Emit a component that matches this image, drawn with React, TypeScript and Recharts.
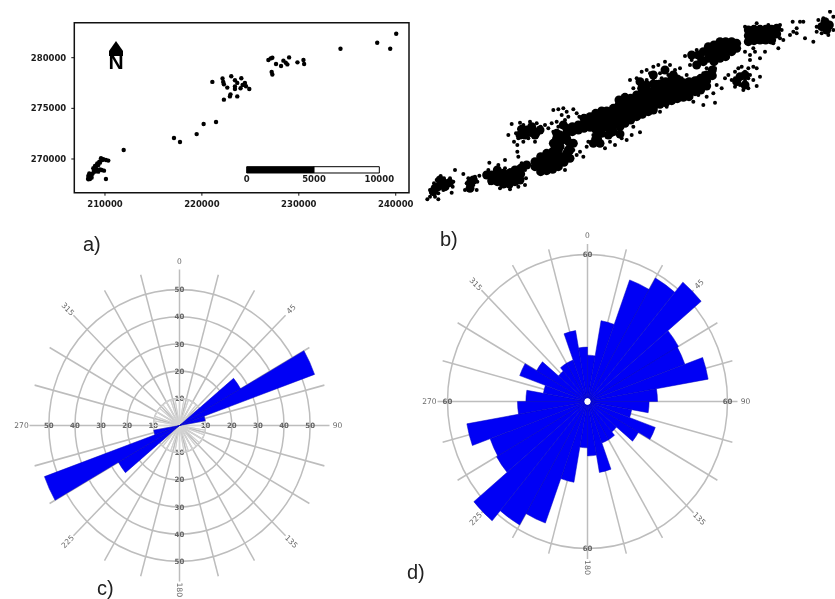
import React from 'react';
import {
  ScatterChart, Scatter, XAxis, YAxis, ReferenceArea, ReferenceDot,
  PieChart, Pie, Sector, PolarGrid,
} from 'recharts';

// ---------- Panel a: map of points (map coordinates) ----------
const aXTicks = [210000, 220000, 230000, 240000];
const aYTicks = [270000, 275000, 280000];
const aXDomain = [206835, 241370];
const aYDomain = [266673, 283455];
const aX = [
  208280, 208450, 208620, 208380, 208730, 208970, 209310, 209660, 209900, 208800, 208970, 209210, 209420, 209310, 209590, 209830, 210100, 210340, 210100, 208450,
  208520, 208280, 208860, 209140, 209480, 209070, 209480, 209720, 208620, 208280,
  211930,
  217120, 217740, 219460, 220180, 221460,
  221080, 222130, 222200, 222270, 222620, 223030, 223410, 223650, 224070, 223410, 223410, 223990, 224200, 224440, 224550, 224890, 222950, 222270, 222890, 223650,
  226860, 227100, 227270, 227650, 227200, 227270, 228170, 228410, 228650, 228820, 229000, 229860, 230480, 230550, 234300, 238090, 239430, 240050,
];
const aY = [
  268090, 268250, 268420, 268580, 268580, 268750, 268750, 268910, 268850, 269080, 269310, 269570, 269740, 269410, 270070, 269970, 269900, 269840, 268020, 268020,
  268420, 268320, 268850, 268980, 268980, 269240, 269640, 269900, 268160, 267990,
  270890,
  272070, 271680, 272460, 273450, 273650,
  277610, 277940, 277610, 277380, 277050, 278170, 277770, 277510, 277970, 277150, 276910, 276980, 277310, 277510, 277180, 276910, 276380, 275860, 276180, 276180,
  279770, 279930, 280000, 279380, 278600, 278340, 279180, 279710, 279510, 279340, 280030, 279540, 279770, 279380, 280890, 281480, 280890, 282370,
];
const aScaleBarX = [224623, 231570, 238308];
const aScaleBarY = [268618, 269240];
const aScaleLabels = ['0', '5000', '10000'];
const aScaleLabelY = 268000;

// ---------- Panel b: dense cloud (picture units, no axes) ----------
const bDense: [number, number][] = [
  [40,545],[55,530],[70,518],[88,518],[60,510],[45,535],[75,530],[150,520],[160,510],[150,535],
  [200,495],[215,495],[215,512],[232,480],[232,497],[232,515],[250,490],[250,507],[250,522],[268,490],[268,507],[268,522],[285,480],[285,497],[285,515],[302,475],[302,492],[300,510],[320,465],
  [345,455],[345,470],[362,440],[362,455],[362,472],[362,485],[380,430],[380,447],[380,465],[380,482],[398,425],[398,442],[398,460],[398,478],[415,420],[415,437],[415,455],[415,470],[432,440],[432,457],[450,445],[440,430],[450,420],
  [300,375],[320,360],[335,350],[345,375],[305,358],[340,365],[360,360],[315,375],
  [410,385],[420,375],[425,392],[440,385],[420,410],[400,400],[405,415],[415,400],[410,370],[430,345],
  [440,355],[440,370],[457,350],[457,365],[475,345],[475,360],[492,325],[492,340],[492,355],[510,320],[510,335],[510,352],[527,310],[527,325],[527,342],[527,358],[545,303],[545,318],[545,335],[545,352],[560,303],[562,320],[562,337],[562,352],
  [530,380],[545,370],[565,375],[520,400],[540,400],[580,365],[600,372],[450,400],[445,420],[460,400],
  [580,295],[580,312],[580,328],[580,345],[597,270],[597,285],[597,302],[597,320],[597,335],[600,350],[615,262],[615,275],[615,292],[615,308],[615,325],[615,340],[632,265],[632,282],[632,298],[632,315],[632,330],[650,255],[650,272],[650,288],[650,305],[650,320],
  [667,250],[667,267],[667,283],[667,298],[667,313],[685,245],[685,262],[685,278],[685,292],[685,305],[702,240],[702,257],[702,272],[702,288],[700,300],[720,238],[720,252],[720,268],[720,283],[737,232],[737,248],[737,264],[737,278],[755,225],[755,240],[755,257],[755,272],
  [772,222],[772,238],[772,252],[772,266],[790,218],[790,235],[790,248],[790,262],[807,215],[807,230],[807,245],[807,260],[825,212],[825,228],[825,245],[842,205],[842,222],[842,240],[860,195],[860,212],[860,228],[877,180],[877,197],
  [665,235],[680,225],[700,222],[720,222],[737,215],[755,208],[772,207],[660,215],[700,195],[735,180],[760,195],[830,165],[845,150],[815,135],[850,155],
  [835,135],[850,125],[865,110],[865,127],[865,145],[882,105],[882,122],[882,138],[882,155],[900,95],[900,112],[900,128],[900,145],[917,95],[917,110],[917,127],[917,140],[935,95],[935,110],[935,125],[950,100],[950,115],
  [985,60],[985,77],[985,95],[1002,58],[1002,75],[1002,92],[1020,58],[1020,75],[1020,90],[1037,58],[1037,75],[1037,90],[1055,58],[1055,75],[1055,90],[1070,55],[1070,72],
  [1215,35],[1228,45],[1205,50],[1220,60],
  [960,200],[975,195],[950,215],[975,225],
];
const bSparse: [number, number][] = [
  [22,568],[30,560],[35,550],[30,540],[42,520],[50,510],[62,498],[72,505],[90,505],[100,515],[98,530],[80,535],[70,540],[55,550],[45,560],[55,568],[95,548],[105,480],
  [135,540],[140,520],[145,505],[165,500],[178,497],[172,515],[170,540],[155,532],[130,492],[160,525],
  [197,490],[205,480],[208,458],[235,465],[255,450],[255,475],[270,480],[305,460],[315,480],[318,505],[315,525],[240,535],[270,538],[295,530],[210,520],[295,440],[292,425],
  [265,375],[275,342],[300,338],[298,355],[288,370],[282,395],[292,405],[310,345],[330,335],[350,340],[362,350],[375,345],[395,340],[410,335],[385,355],[400,365],[415,350],[400,300],[415,298],[430,295],[440,305],[425,315],[445,320],[460,298],[470,310],[478,320],[435,330],[345,395],[355,372],[325,385],[310,395],[330,375],[295,385],
  [440,400],[460,420],[480,425],[490,440],[455,445],[500,410],[520,385],[530,395],[545,405],[555,415],[570,395],[585,405],[605,385],[620,390],[635,375],[660,367],[640,350],[600,365],[575,375],[520,375],[540,385],[505,395],[470,435],[435,480],[425,435],
  [630,210],[650,205],[660,225],[665,185],[680,180],[690,190],[700,170],[715,165],[735,155],[750,165],[765,180],[780,175],[795,138],[815,150],[830,120],[800,195],[770,200],[745,195],[720,190],[700,205],[680,210],[660,240],[640,235],[725,205],[755,205],[785,205],[830,205],[855,155],[860,175],[850,190],[885,175],[810,165],[710,215],[735,215],[690,225],[770,215],
  [820,275],[850,285],[885,278],[860,260],[835,255],[880,250],[905,235],[890,225],[915,205],[740,290],[720,305],[760,270],[700,285],[680,310],[800,265],
  [925,195],[935,210],[945,185],[955,175],[965,170],[975,185],[985,175],[1000,170],[990,195],[975,210],[960,225],[945,230],[970,240],[985,235],[1010,228],[1020,200],[955,205],[985,205],[1000,210],[1010,175],[965,195],[945,205],
  [975,125],[990,135],[1005,125],[1020,145],[1035,125],[1075,115],[1090,90],[990,150],
  [975,50],[1010,40],[1045,45],[1080,45],[1085,60],[1080,85],[1060,100],[1000,115],
  [1110,75],[1120,65],[1130,55],[1140,35],[1118,35],[1150,35],[1130,70],[1155,85],[1180,95],[1190,50],[1195,30],[1210,25],[1230,5],[1240,20],[1240,60],[1225,75],[1205,70],[1190,65],
];

// ---------- Panels c and d: rose diagrams, 36 bins of 10 degrees from north ----------
const cBins = [
  0, 0, 0, 0, 0, 27, 55, 10, 0, 0, 0, 0, 0, 0, 0, 0, 0, 0,
  0, 0, 0, 0, 0, 27, 55, 10, 0, 0, 0, 0, 0, 0, 0, 0, 0, 0,
];
const cRings = [10, 20, 30, 40, 50];
const dBins = [
  31.5, 55.8, 88, 97, 106, 75, 74, 87.5, 50, 44, 32, 51.5, 42, 27, 30, 30, 49, 37,
  31.5, 55.8, 88, 97, 106, 75, 74, 87.5, 50, 44, 32, 51.5, 42, 27, 30, 30, 49, 37,
];
const dRings = [100];
const longSpokes = [0, 15, 30, 45, 60, 75, 90, 105, 120, 135, 150, 165, 180, 195, 210, 225, 240, 255, 270, 285, 300, 315, 330, 345];
const compassLabels = [
  { bearing: 0, text: '0', rot: 0 },
  { bearing: 45, text: '45', rot: -45 },
  { bearing: 90, text: '90', rot: 0 },
  { bearing: 135, text: '135', rot: 45 },
  { bearing: 180, text: '180', rot: 90 },
  { bearing: 225, text: '225', rot: -45 },
  { bearing: 270, text: '270', rot: 0 },
  { bearing: 315, text: '315', rot: 45 },
];

const AXIS_FONT = { fontFamily: 'DejaVu Sans', fontSize: 8.5, fontWeight: 700, fill: '#1a1a1a' };
const GREY = '#bdbdbd';
const ROSE_SIZE = 375;

function PointDot(r: number) {
  return (p: any) => <circle cx={p.cx} cy={p.cy} r={r} fill="#000" />;
}

function Rose({ bins, rings, unit, inner, innerSpokes, ringLabels }: {
  bins: number[]; rings: number[]; unit: number; inner: number; innerSpokes: boolean; ringLabels: string[] | null;
}) {
  const C = ROSE_SIZE / 2;
  const table = bins.map((v, i) => ({ bin: i * 10, slot: 1, v }));
  const rad = (b: number) => (b * Math.PI) / 180;
  const at = (b: number, r: number) => ({ x: C + r * Math.sin(rad(b)), y: C - r * Math.cos(rad(b)) });
  return (
    <PieChart width={ROSE_SIZE} height={ROSE_SIZE} margin={{ top: 0, right: 0, bottom: 0, left: 0 }}>
      <PolarGrid
        gridType="circle"
        polarAngles={longSpokes.map((b) => 90 - b)}
        polarRadius={rings.map((r) => r * unit)}
        stroke={GREY} strokeWidth={1.5}
      />
      {innerSpokes && (
        <Pie
          data={table} dataKey="slot" cx={C} cy={C} startAngle={90} endAngle={-270}
          innerRadius={0} outerRadius={rings[0] * unit} fill="none" stroke="#d2d2d2" strokeWidth={1}
          isAnimationActive={false} labelLine={false} label={false}
        />
      )}
      <Pie
        data={table} dataKey="slot" cx={C} cy={C} startAngle={90} endAngle={-270}
        innerRadius={inner} outerRadius={150} paddingAngle={0} stroke="none"
        isAnimationActive={false} labelLine={false} label={false}
        shape={(p: any) => {
          const val = p.payload?.v ?? p.v ?? 0;
          if (!val) return <g />;
          return (
            <Sector
              cx={p.cx} cy={p.cy} startAngle={p.startAngle} endAngle={p.endAngle}
              innerRadius={inner} outerRadius={val * unit}
              fill="#0000f5" stroke="#0000c0" strokeWidth={0.5}
            />
          );
        }}
      />
      {inner > 0 && <circle cx={C} cy={C} r={inner} fill="#fff" />}
      {ringLabels && [0, 90, 180, 270].flatMap((b) =>
        rings.map((r, i) => {
          const q = at(b, r * unit);
          return (
            <text key={`${b}-${r}`} x={q.x} y={q.y} textAnchor="middle" dominantBaseline="central"
              fontFamily="DejaVu Sans" fontSize={7} fontWeight={700} fill="#666">{ringLabels[i]}</text>
          );
        }),
      )}
      {compassLabels.map((l) => {
        const q = at(l.bearing, 158);
        return (
          <text key={l.bearing} x={q.x} y={q.y} textAnchor="middle" dominantBaseline="central"
            transform={`rotate(${l.rot} ${q.x} ${q.y})`}
            fontFamily="DejaVu Sans" fontSize={7.5} fill="#6a6a6a">{l.text}</text>
        );
      })}
    </PieChart>
  );
}

const note = (left: number, top: number, text: string) => (
  <div style={{ position: 'absolute', left, top, fontFamily: 'Liberation Sans', fontSize: 20, lineHeight: '22px', color: '#222' }}>{text}</div>
);

export default function App() {
  const aData = aX.map((x, i) => ({ x, y: aY[i] }));
  const denseData = bDense.map(([x, y]) => ({ x, y }));
  const sparseData = bSparse.map(([x, y]) => ({ x, y }));
  return (
    <div style={{ position: 'absolute', left: 0, top: 0, width: 835, height: 599, overflow: 'hidden', background: '#fff', filter: 'blur(0.5px)' }}>
      {/* a */}
      <div style={{ position: 'absolute', left: 0, top: 0 }}>
        <ScatterChart width={430} height={225} margin={{ top: 22.7, right: 21, bottom: 0, left: 0 }}>
          <XAxis type="number" dataKey="x" domain={aXDomain} ticks={aXTicks} allowDataOverflow
            axisLine={false} tickSize={3} tickLine={{ stroke: '#111' }} tick={AXIS_FONT} tickMargin={5} interval={0} height={32.3} />
          <YAxis type="number" dataKey="y" domain={aYDomain} ticks={aYTicks} allowDataOverflow
            axisLine={false} tickSize={3} tickLine={{ stroke: '#111' }} tick={AXIS_FONT} tickMargin={5} interval={0} width={74.3} />
          <ReferenceArea x1={aXDomain[0]} x2={aXDomain[1]} y1={aYDomain[0]} y2={aYDomain[1]} fill="none" stroke="#111" strokeWidth={1.5} ifOverflow="visible" />
          <ReferenceArea x1={aScaleBarX[0]} x2={aScaleBarX[1]} y1={aScaleBarY[0]} y2={aScaleBarY[1]} fill="#000" fillOpacity={1} stroke="#000" />
          <ReferenceArea x1={aScaleBarX[1]} x2={aScaleBarX[2]} y1={aScaleBarY[0]} y2={aScaleBarY[1]} fill="#fff" fillOpacity={1} stroke="#000" />
          {aScaleBarX.map((x, i) => (
            <ReferenceDot key={x} x={x} y={aScaleLabelY} r={0} stroke="none" fill="none"
              label={{ value: aScaleLabels[i], position: 'center', ...AXIS_FONT }} />
          ))}
          <Scatter data={aData} isAnimationActive={false} shape={PointDot(2.2)} />
        </ScatterChart>
      </div>
      {/* north arrow */}
      <svg style={{ position: 'absolute', left: 100, top: 36 }} width={32} height={40}>
        <path d="M16 5 L9 15 L9 20 L23 20 L23 15 Z" fill="#000" />
        <text x={16} y={33} textAnchor="middle" fontFamily="Liberation Sans" fontWeight={700} fontSize={21} fill="#000">N</text>
      </svg>
      {note(83, 233, 'a)')}

      {/* b */}
      <div style={{ position: 'absolute', left: 420, top: 10 }}>
        <ScatterChart width={415} height={240} margin={{ top: 0, right: 0, bottom: 0, left: 0 }}>
          <XAxis type="number" dataKey="x" domain={[0, 1245]} hide />
          <YAxis type="number" dataKey="y" domain={[0, 720]} reversed hide />
          <Scatter data={denseData} isAnimationActive={false} shape={PointDot(4.5)} />
          <Scatter data={sparseData} isAnimationActive={false} shape={PointDot(2)} />
        </ScatterChart>
      </div>
      {note(440, 228, 'b)')}

      {/* c */}
      <div style={{ position: 'absolute', left: 179.3 - ROSE_SIZE / 2, top: 425.7 - ROSE_SIZE / 2, transform: 'scale(1, 1.04)', transformOrigin: 'center' }}>
        <Rose bins={cBins} rings={cRings} unit={2.613} inner={0} innerSpokes ringLabels={['10', '20', '30', '40', '50']} />
      </div>
      {note(97, 577, 'c)')}

      {/* d */}
      <div style={{ position: 'absolute', left: 587 - ROSE_SIZE / 2, top: 401.3 - ROSE_SIZE / 2, transform: 'scale(1, 1.05)', transformOrigin: 'center' }}>
        <Rose bins={dBins} rings={dRings} unit={1.4} inner={3.5} innerSpokes={false} ringLabels={['60']} />
      </div>
      {note(407, 561, 'd)')}
    </div>
  );
}
